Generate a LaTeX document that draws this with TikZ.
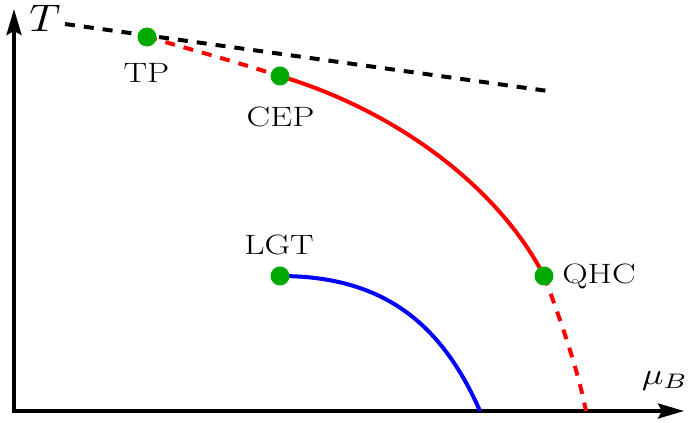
\documentclass[tikz,border=0pt]{standalone}
\usepackage{fontspec}
\usepackage{graphicx}
\usetikzlibrary{arrows.meta}
\newcommand{\lblx}[1]{\scalebox{1.26}[1]{\fontsize{28}{31}\selectfont #1}}
\begin{document}
\begin{tikzpicture}[x=1pt,y=-1pt,
  axisline/.style={line width=3.5pt,-{Stealth[length=26pt,width=15pt,inset=4pt]}},
  dotnode/.style={circle,fill={rgb,255:red,0;green,170;blue,0},draw=none,minimum size=19pt,inner sep=0pt},
  lbl/.style={inner sep=0pt,anchor=base},
  redsolid/.style={line width=4pt,draw={rgb,255:red,255;green,0;blue,0}},
  reddash/.style={line width=4pt,draw={rgb,255:red,255;green,0;blue,0},dash pattern=on 10pt off 9pt},
  blackdash/.style={line width=4pt,dash pattern=on 10pt off 9pt},
  bluesolid/.style={line width=4pt,draw={rgb,255:red,0;green,0;blue,255}}]
\useasboundingbox (0,0) rectangle (689,423);
% points
\coordinate (O) at (14,411);
\coordinate (xend) at (684,411);
\coordinate (yend) at (14,9);
\coordinate (tpc) at (147,37);
\coordinate (cepc) at (280,76);
\coordinate (qhcc) at (544,276);
\coordinate (lgtc) at (280,276);
\coordinate (redend) at (586,411);
\coordinate (blueend) at (480,411);
\coordinate (bdstart) at (65,24);
\coordinate (bdend) at (548,91);
% axes
\draw[axisline] ([xshift=-1.75pt]O) -- (xend);
\draw[axisline] ([yshift=1.75pt]O) -- (yend);
% black dashed line
\draw[blackdash] (bdstart) -- (bdend);
% red curve
\draw[reddash] (tpc) .. controls (190,49) and (236,62) .. (cepc);
\draw[redsolid] (cepc) .. controls (400,112) and (500,190) .. (qhcc);
\draw[reddash] (qhcc) .. controls (560,318) and (578,370) .. (redend);
% blue curve
\draw[bluesolid] (lgtc) .. controls (380,276) and (440,320) .. (blueend);
% dots
\node[dotnode] (tp) at (tpc) {};
\node[dotnode] (cep) at (cepc) {};
\node[dotnode] (qhc) at (qhcc) {};
\node[dotnode] (lgt) at (lgtc) {};
% labels
\node[lbl] (tpl) at (146.5,82) {\lblx{TP}};
\node[lbl] (cepl) at (280.5,126) {\lblx{CEP}};
\node[lbl] (lgtl) at (279,254) {\lblx{LGT}};
\node[lbl] (qhcl) at (599,283) {\lblx{QHC}};
\node[lbl] (tl) at (45,31) {\scalebox{4.3}[3.85]{$T$}};
\node[lbl] (mul) at (665,384) {\scalebox{3.6}[3.0]{$\mu_B$}};
\end{tikzpicture}
\end{document}
